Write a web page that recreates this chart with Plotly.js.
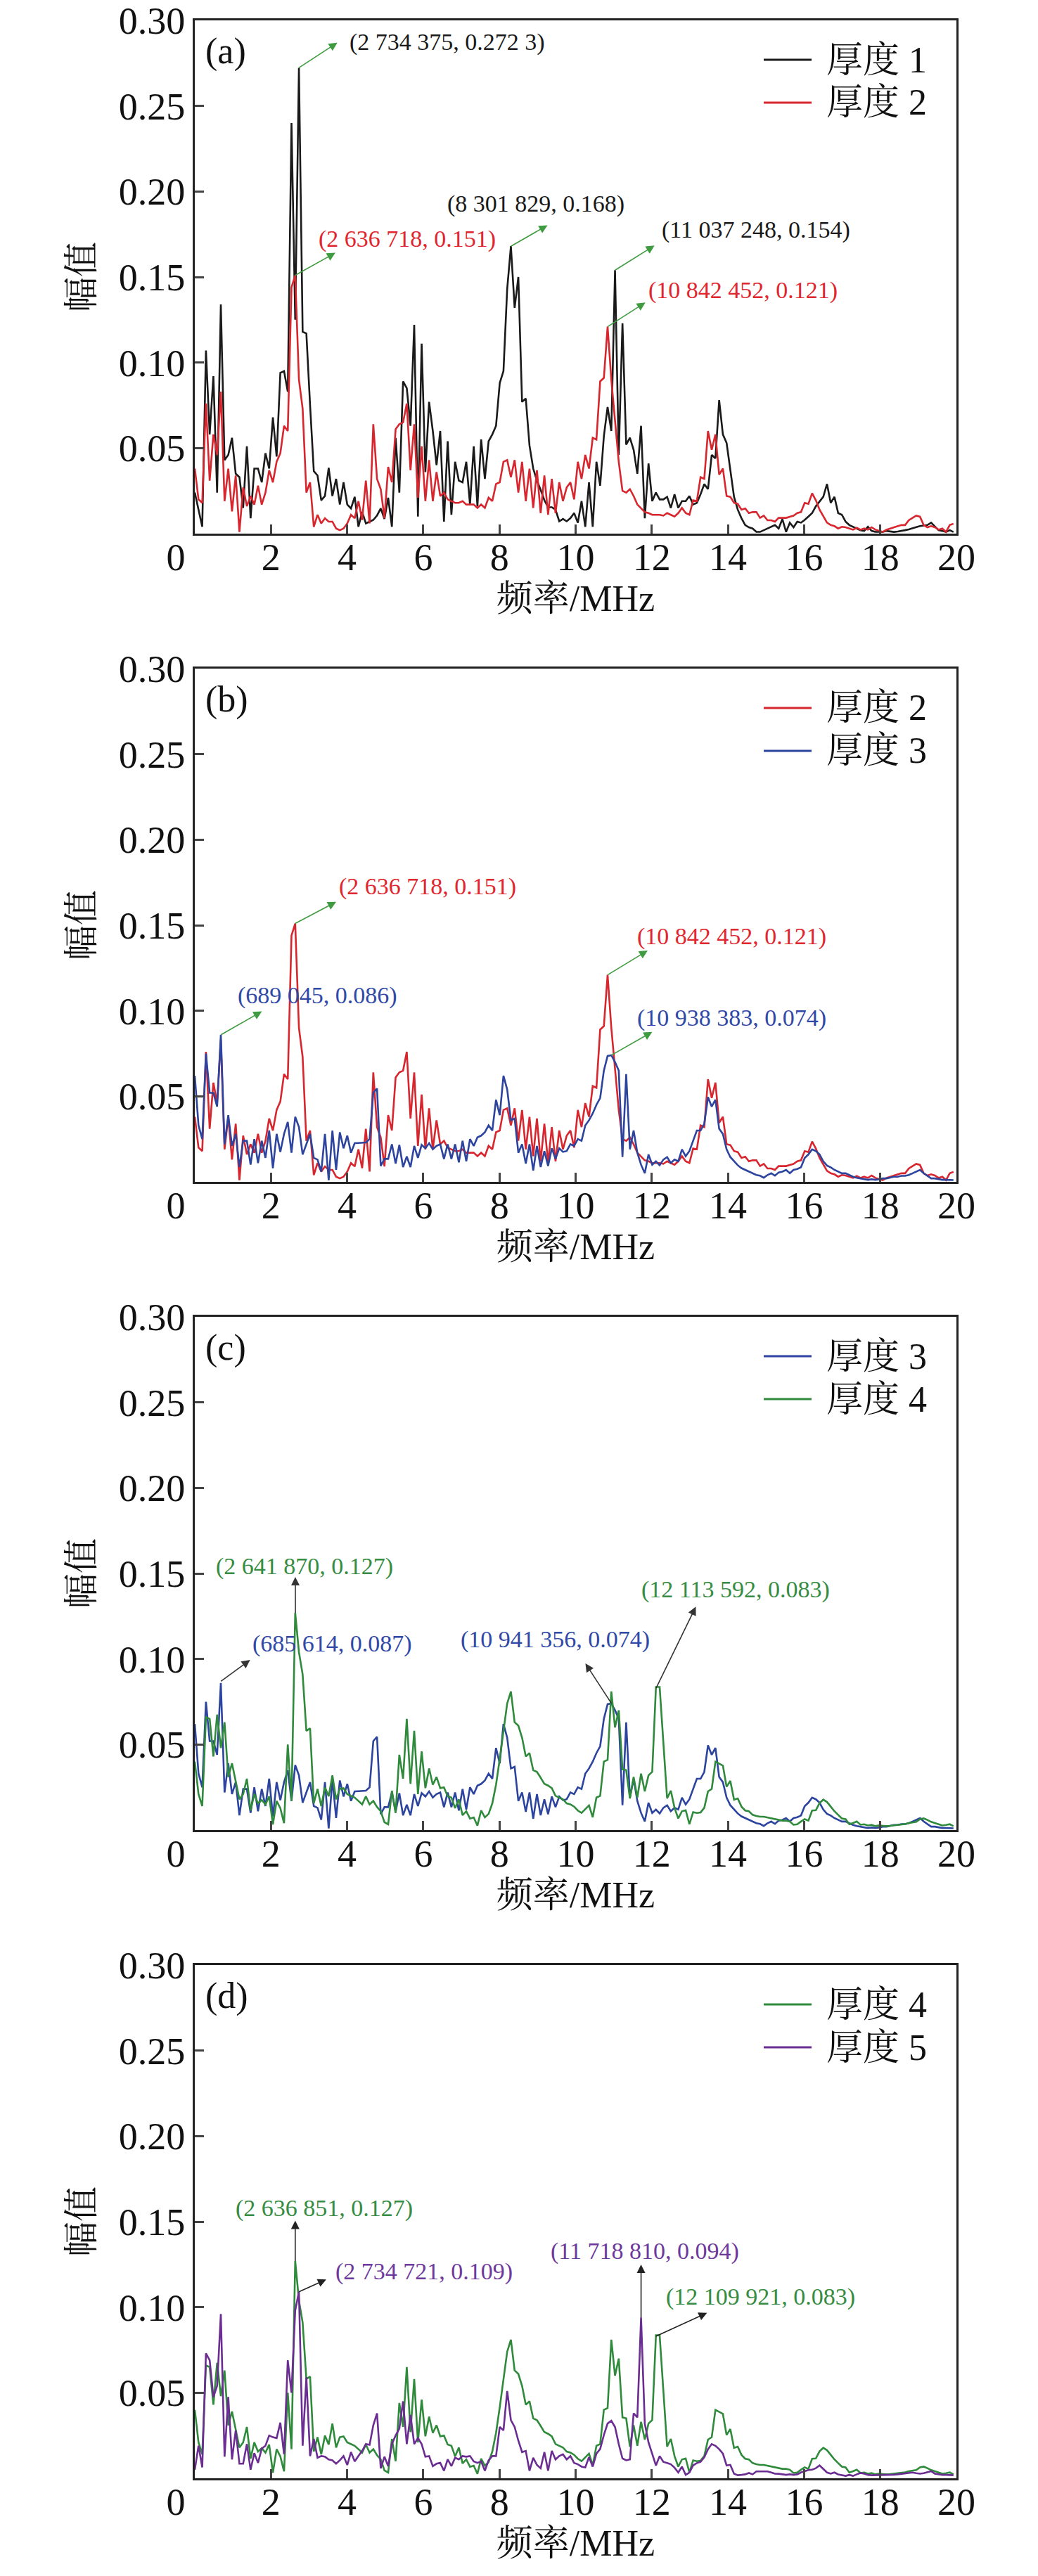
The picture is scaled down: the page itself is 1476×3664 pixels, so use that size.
<!DOCTYPE html>
<html>
<head>
<meta charset="utf-8">
<script src="https://cdn.plot.ly/plotly-3.0.1.min.js"></script>
<style>
  html, body { margin: 0; padding: 0; background: #fff; }
</style>
</head>
<body>
<div id="chart" style="width:1476px;height:3664px"></div>
<script>
// FFT bin width in MHz (100 MHz sampling / 1024 points)
const BIN_MHZ = 0.09765625;

// amplitude per bin
const amp1 = [ // 厚度 1
  .024,.014,.004,.107,.058,.092,.024,.134,.043,.046,
  .056,.035,.033,.015,.051,.009,.038,.038,.030,.047,
  .038,.068,.045,.094,.095,.083,.240,.125,.2723,.118,
  .117,.075,.0365,.034,.0195,.022,.0385,.022,.032,.017,
  .030,.017,.0147,.0215,.004,.0127,.006,.007,.008,.0106,
  .0147,.0086,.021,.004,.056,.024,.089,.085,.063,.122,
  .010,.111,.036,.077,.060,.040,.060,.007,.054,.011,
  .042,.031,.030,.042,.017,.051,.016,.055,.032,.054,
  .058,.063,.088,.095,.143,.168,.132,.150,.077,.079,
  .0515,.038,.031,.0256,.0195,.0154,.0154,.014,.0072,.0086,
  .0072,.009,.012,.0064,.019,.004,.030,.004,.042,.028,
  .057,.074,.060,.154,.046,.123,.052,.056,.049,.035,
  .063,.009,.041,.019,.024,.020,.020,.0215,.015,.023,
  .015,.019,.019,.022,.017,.018,.023,.029,.026,.046,
  .044,.078,.058,.053,.038,.0215,.014,.009,.005,.0037,
  .003,.001,.001,.002,.003,.004,.005,.003,.0085,.001,
  .0064,.0037,.007,.0064,.008,.010,.012,.016,.019,.0215,
  .029,.018,.0215,.012,.011,.007,.005,.004,.003,.002,
  .0016,.004,.0016,.001,.001,.001,.0016,.0012,.001,.0012,
  .0015,.002,.0025,.003,.0038,.0044,.0048,.005,.0064,.004,
  .002,.0016,.001,.002,.001
];
const amp2 = [ // 厚度 2
  .038,.020,.018,.076,.031,.058,.046,.083,.019,.038,
  .013,.034,.001,.027,.016,.022,.017,.028,.017,.024,
  .037,.030,.042,.047,.063,.060,.144,.151,.090,.073,
  .024,.030,.004,.011,.006,.009,.007,.007,.003,.002,
  .003,.006,.011,.009,.019,.008,.031,.006,.064,.032,
  .026,.009,.039,.030,.061,.064,.065,.076,.037,.064,
  .021,.051,.019,.043,.019,.036,.022,.024,.020,.019,
  .018,.018,.019,.017,.017,.017,.015,.017,.015,.021,
  .019,.029,.030,.042,.043,.033,.043,.024,.042,.019,
  .038,.015,.037,.012,.034,.011,.032,.012,.030,.019,
  .027,.030,.020,.042,.032,.046,.038,.056,.055,.089,
  .091,.121,.090,.067,.042,.025,.024,.026,.022,.017,
  .015,.0126,.012,.011,.011,.011,.0105,.012,.011,.010,
  .012,.015,.012,.011,.0195,.019,.033,.032,.060,.049,
  .058,.0345,.038,.022,.0215,.018,.0174,.014,.0147,.012,
  .0126,.0126,.0092,.0105,.0078,.0078,.007,.0092,.0092,.0092,
  .0099,.0105,.012,.0126,.018,.0174,.0236,.0195,.014,.0099,
  .0064,.005,.0044,.003,.004,.0037,.003,.0023,.0034,.0023,
  .003,.0023,.0037,.0023,.0016,.001,.0023,.003,.0037,.0044,
  .005,.005,.0078,.0092,.0105,.0099,.005,.0037,.0044,.0037,
  .0023,.003,.001,.005,.0058
];
const amp3 = [ // 厚度 3
  .062,.033,.025,.075,.052,.052,.044,.086,.022,.039,
  .021,.028,.0086,.024,.024,.010,.025,.011,.024,.014,
  .030,.008,.028,.0175,.028,.035,.017,.038,.032,.016,
  .022,.028,.014,.013,.006,.028,.001,.030,.007,.029,
  .0196,.027,.017,.0226,.0227,.023,.023,.025,.052,.0545,
  .0093,.0134,.0134,.022,.0107,.0216,.0086,.0148,.0086,.021,
  .014,.0216,.0196,.0226,.019,.021,.022,.0134,.022,.0134,
  .022,.0114,.024,.012,.025,.021,.026,.027,.029,.033,
  .030,.048,.039,.062,.054,.036,.037,.017,.022,.0107,
  .022,.0066,.021,.0086,.018,.0093,.0196,.0134,.0196,.0175,
  .018,.022,.021,.025,.024,.033,.036,.040,.045,.049,
  .065,.0736,.074,.070,.065,.0145,.063,.019,.030,.017,
  .010,.005,.016,.010,.012,.0097,.013,.0145,.011,.013,
  .012,.019,.015,.018,.024,.030,.030,.034,.0495,.044,
  .048,.031,.028,.019,.0145,.012,.0097,.008,.007,.006,
  .005,.004,.0036,.0024,.004,.005,.0036,.0055,.006,.007,
  .005,.007,.0075,.0085,.014,.016,.019,.018,.016,.012,
  .0095,.0085,.007,.006,.005,.005,.004,.003,.0024,.002,
  .0015,.0012,.0015,.0012,.0015,.002,.002,.0025,.003,.003,
  .0035,.0035,.004,.005,.006,.007,.005,.0036,.002,.002,
  .0015,.0012,.0012,.001,.001
];
const amp4 = [ // 厚度 4
  .040,.021,.014,.066,.065,.043,.0675,.048,.063,.031,
  .039,.029,.018,.021,.030,.0115,.021,.0156,.0176,.015,
  .0197,.0033,.017,.0128,.004,.050,.017,.127,.104,.091,
  .058,.0595,.0156,.024,.014,.025,.0197,.032,.018,.024,
  .0245,.021,.020,.019,.017,.015,.0197,.015,.017,.0135,
  .011,.0046,.0033,.023,.010,.044,.030,.065,.027,.058,
  .021,.046,.0245,.036,.0265,.031,.0245,.025,.0197,.019,
  .0128,.018,.0087,.011,.0067,.0074,.0026,.0115,.0074,.0094,
  .0156,.0265,.0415,.058,.074,.081,.063,.061,.054,.043,
  .045,.035,.034,.0306,.027,.026,.0245,.020,.019,.018,
  .0156,.015,.0137,.0114,.010,.0123,.0144,.0075,.019,.020,
  .040,.041,.081,.060,.070,.0356,.035,.0185,.031,.019,
  .033,.0226,.032,.034,.0836,.0836,.051,.0185,.023,.013,
  .0068,.011,.0116,.0034,.0105,.010,.0103,.013,.0226,.024,
  .040,.0388,.0377,.0253,.0288,.0178,.0185,.0137,.0114,.011,
  .0089,.0082,.0078,.0078,.0073,.0068,.0064,.0059,.0055,.0055,
  .005,.0031,.0034,.005,.0064,.0055,.0114,.0116,.0158,.0178,
  .0164,.0137,.011,.0089,.0068,.0064,.0034,.0041,.005,.0031,
  .0034,.0027,.003,.0023,.0027,.0025,.0023,.0025,.0027,.003,
  .0031,.0035,.0041,.0045,.0048,.0064,.0068,.0059,.0048,.0041,
  .0035,.0027,.003,.0034,.0023
];
const amp5 = [ // 厚度 5
  .005,.019,.0064,.073,.069,.0475,.054,.096,.0126,.0475,
  .011,.028,.0085,.0085,.020,.005,.0147,.009,.0174,.019,
  .025,.024,.0235,.0325,.014,.069,.050,.098,.109,.019,
  .059,.013,.023,.012,.013,.0126,.011,.0105,.0085,.0105,
  .013,.0078,.0153,.0099,.013,.016,.020,.0195,.031,.038,
  .0058,.0126,.0071,.020,.025,.029,.045,.020,.037,.020,
  .0235,.020,.0126,.013,.0071,.0085,.009,.0044,.011,.0071,
  .012,.011,.013,.0126,.013,.0099,.009,.0099,.0044,.0105,
  .013,.013,.030,.028,.051,.034,.030,.022,.0153,.016,
  .0044,.012,.0078,.0058,.0153,.0044,.016,.011,.013,.014,
  .011,.013,.009,.0082,.0068,.0064,.0123,.0068,.0144,.0171,
  .0253,.032,.0336,.030,.020,.0116,.0105,.011,.038,.0356,
  .094,.032,.021,.0144,.0075,.013,.0096,.0089,.0082,.0062,
  .0034,.0068,.002,.0034,.0075,.0089,.0096,.0123,.017,.020,
  .019,.017,.0144,.0075,.0078,.0027,.0018,.002,.0023,.0031,
  .0023,.004,.004,.0037,.004,.0034,.0027,.0026,.0023,.002,
  .0023,.002,.0023,.0034,.0041,.0048,.005,.0059,.0075,.0055,
  .0034,.0027,.0034,.0023,.002,.0014,.002,.0014,.0023,.0031,
  .0027,.002,.0018,.0018,.0018,.0018,.002,.002,.0021,.0023,
  .0025,.0027,.003,.0034,.003,.0027,.003,.0034,.0041,.0027,
  .0023,.002,.002,.002,.0018
];

const seriesNames = ['厚度 1', '厚度 2', '厚度 3', '厚度 4', '厚度 5'];
const seriesData = [amp1, amp2, amp3, amp4, amp5];
const lineColors = ['#1a1a1a', '#d8262f', '#2c449e', '#2f8a3c', '#6b2d92'];
const textColors = ['#1a1a1a', '#e0262f', '#3149a6', '#368c42', '#6d3a9c'];

const yTicks = [0.05, 0.10, 0.15, 0.20, 0.25, 0.30];
const xTicks = [0, 2, 4, 6, 8, 10, 12, 14, 16, 18, 20];
// the "0" sits a little left of the origin in the original figure
const xTickText = xTicks.map(v => v === 0 ? '0\u00a0\u00a0\u00a0\u00a0' : String(v));

// peak notes: [series, peak MHz, peak value, label]
const panels = [
  { tag: '(a)', series: [0, 1], arrowColor: '#3f9b3f', notes: [
    [0, 2.734375, 0.2723, '(2 734 375, 0.272 3)'],
    [1, 2.636718, 0.151, '(2 636 718, 0.151)'],
    [0, 8.301829, 0.168, '(8 301 829, 0.168)'],
    [0, 11.037248, 0.154, '(11 037 248, 0.154)'],
    [1, 10.842452, 0.121, '(10 842 452, 0.121)']
  ]},
  { tag: '(b)', series: [1, 2], arrowColor: '#3f9b3f', notes: [
    [1, 2.636718, 0.151, '(2 636 718, 0.151)'],
    [2, 0.689045, 0.086, '(689 045, 0.086)'],
    [1, 10.842452, 0.121, '(10 842 452, 0.121)'],
    [2, 10.938383, 0.074, '(10 938 383, 0.074)']
  ]},
  { tag: '(c)', series: [2, 3], arrowColor: '#333333', notes: [
    [3, 2.641870, 0.127, '(2 641 870, 0.127)'],
    [2, 0.685614, 0.087, '(685 614, 0.087)'],
    [2, 10.941356, 0.074, '(10 941 356, 0.074)'],
    [3, 12.113592, 0.083, '(12 113 592, 0.083)']
  ]},
  { tag: '(d)', series: [3, 4], arrowColor: '#222222', notes: [
    [3, 2.636851, 0.127, '(2 636 851, 0.127)'],
    [4, 2.734721, 0.109, '(2 734 721, 0.109)'],
    [4, 11.718810, 0.094, '(11 718 810, 0.094)'],
    [3, 12.109921, 0.083, '(12 109 921, 0.083)']
  ]}
];

// where each note's arrow head and label sit: [headX, headY, labelLeftX, labelY]
const notePlacement = [
  [[3.77, 0.2874, 4.03, 0.2874], [3.72, 0.1645, 3.21, 0.172], [9.29, 0.1806, 6.6, 0.1927],
   [12.1, 0.1688, 12.22, 0.1777], [11.86, 0.1355, 11.87, 0.1423]],
  [[3.74, 0.164, 3.74, 0.1725], [1.79, 0.100, 1.09, 0.109], [11.92, 0.1356, 11.57, 0.1435],
   [12.04, 0.088, 11.57, 0.0958]],
  [[2.64, 0.1486, 0.52, 0.1541], [1.48, 0.0999, 1.48, 0.109], [10.24, 0.098, 6.95, 0.1115],
   [13.17, 0.1312, 11.69, 0.1404]],
  [[2.637, 0.1512, 1.04, 0.158], [3.48, 0.1165, 3.65, 0.121], [11.719, 0.1255, 9.31, 0.1326],
   [13.48, 0.097, 12.34, 0.106]]
];

const W = 1476, H = 3664;
const plotLeft = 277, plotRight = 1360, plotTop = 29, plotH = 730, panelStep = 922;
const FONT = "'Liberation Serif', 'Times New Roman', 'Noto Serif CJK SC', 'Noto Sans CJK SC', serif";

const freq = amp1.map((_, k) => k * BIN_MHZ);

const traces = [];
const annotations = [];
const shapes = [];
const layout = {
  width: W, height: H,
  margin: { l: 0, r: 0, t: 0, b: 0 },
  paper_bgcolor: '#fff', plot_bgcolor: '#fff',
  font: { family: FONT, color: '#111' },
  showlegend: false
};

panels.forEach((p, i) => {
  const sfx = i ? String(i + 1) : '';
  const xa = 'x' + sfx, ya = 'y' + sfx;
  const top = plotTop + panelStep * i;

  layout['xaxis' + sfx] = {
    domain: [plotLeft / W, plotRight / W], anchor: ya,
    range: [0, 20], tickvals: xTicks, ticktext: xTickText,
    ticks: 'inside', ticklen: 13, tickwidth: 3,
    showline: true, linewidth: 3, linecolor: '#222', mirror: true,
    showgrid: false, zeroline: false, ticklabeloverflow: 'allow', ticklabelstandoff: -16,
    tickfont: { size: 54, color: '#111' },
    title: { text: '\u00a0\u00a0\u00a0频率/MHz', font: { size: 52, color: '#111' }, standoff: 6 }
  };
  layout['yaxis' + sfx] = {
    domain: [1 - (top + plotH) / H, 1 - top / H], anchor: xa,
    range: [0, 0.30], tickvals: yTicks, ticktext: yTicks.map(v => v.toFixed(2)),
    ticks: 'inside', ticklen: 13, tickwidth: 3,
    showline: true, linewidth: 3, linecolor: '#222', mirror: true,
    showgrid: false, zeroline: false, ticklabeloverflow: 'allow',
    tickfont: { size: 54, color: '#111' },
    title: { text: '幅值', font: { size: 50, color: '#111' }, standoff: 20 }
  };

  p.series.forEach((s, r) => {
    traces.push({
      type: 'scatter', mode: 'lines', x: freq, y: seriesData[s],
      name: seriesNames[s], xaxis: xa, yaxis: ya,
      line: { color: lineColors[s], width: 2.6 }
    });
    // legend entry: sample line + label
    const ly = 1 - (top + 56 + r * 61) / H;
    shapes.push({
      type: 'line', xref: 'paper', yref: 'paper',
      x0: 1086 / W, x1: 1154 / W, y0: ly, y1: ly,
      line: { color: lineColors[s], width: 3 }
    });
    annotations.push({
      xref: 'paper', yref: 'paper', x: 1173 / W, y: ly,
      xanchor: 'left', yanchor: 'middle', showarrow: false,
      text: seriesNames[s], font: { size: 52, color: '#111' }
    });
  });

  annotations.push({
    xref: xa + ' domain', yref: ya + ' domain', x: 0.012, y: 0.94,
    xanchor: 'left', yanchor: 'middle', showarrow: false,
    text: p.tag, font: { size: 52, color: '#111' }
  });

  p.notes.forEach((n, j) => {
    const [s, px, py, label] = n;
    const [hx, hy, tx, ty] = notePlacement[i][j];
    annotations.push({
      xref: xa, yref: ya, axref: xa, ayref: ya,
      x: px, y: py, ax: hx, ay: hy, text: '',
      showarrow: true, arrowside: 'start', startarrowhead: 2, startarrowsize: 1.5,
      arrowwidth: 1.6, arrowcolor: p.arrowColor, standoff: 0, startstandoff: 0
    });
    annotations.push({
      xref: xa, yref: ya, x: tx, y: ty, xanchor: 'left', yanchor: 'middle',
      showarrow: false, text: label, font: { size: 34, color: textColors[s] }
    });
  });
});

layout.annotations = annotations;
layout.shapes = shapes;

Plotly.newPlot('chart', traces, layout, { staticPlot: true, displayModeBar: false });
</script>
</body>
</html>
